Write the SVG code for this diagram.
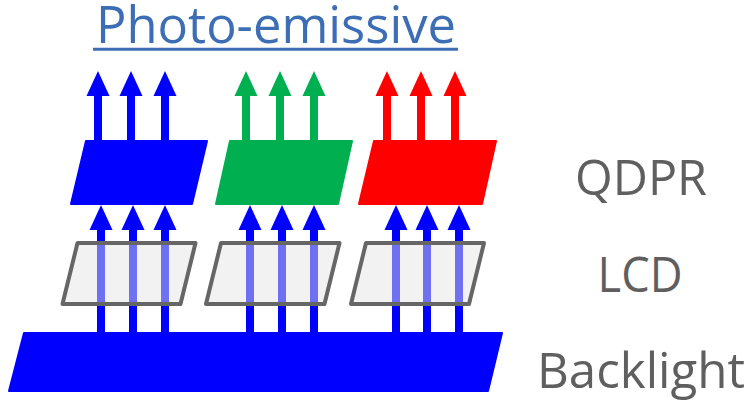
<svg xmlns="http://www.w3.org/2000/svg" width="752" height="408" viewBox="0 0 752 408">
  <style>
    .label { font-family: "Open Sans", "Noto Sans", sans-serif; font-size: 50px; fill: #5f5f5f; text-anchor: middle; }
    .title { font-family: "Open Sans", "Noto Sans", sans-serif; font-size: 52px; fill: #3d6eb5; text-anchor: middle; }
    .solid { stroke-width: 2; stroke-linejoin: round; }
    .blue { fill: #0000ff; stroke: #0000ff; }
    .green { fill: #00b050; stroke: #00b050; }
    .red { fill: #ff0000; stroke: #ff0000; }
    .lcd { fill: #e5e5e5; fill-opacity: 0.49; stroke: #666666; stroke-width: 4; stroke-linejoin: round; }
    .shaft { stroke-width: 8; fill: none; }
    .sb { stroke: #0000ff; marker-end: url(#headBlue); }
    .sg { stroke: #00b050; marker-end: url(#headGreen); }
    .sr { stroke: #ff0000; marker-end: url(#headRed); }
  </style>
  <defs>
    <marker id="headBlue" markerUnits="userSpaceOnUse" markerWidth="25" markerHeight="24" viewBox="0 -12 25 24" refX="1" refY="0" orient="auto">
      <path d="M0,-11.5 L25,0 L0,11.5 Z" fill="#0000ff"/>
    </marker>
    <marker id="headGreen" markerUnits="userSpaceOnUse" markerWidth="25" markerHeight="24" viewBox="0 -12 25 24" refX="1" refY="0" orient="auto">
      <path d="M0,-11.5 L25,0 L0,11.5 Z" fill="#00b050"/>
    </marker>
    <marker id="headRed" markerUnits="userSpaceOnUse" markerWidth="25" markerHeight="24" viewBox="0 -12 25 24" refX="1" refY="0" orient="auto">
      <path d="M0,-11.5 L25,0 L0,11.5 Z" fill="#ff0000"/>
    </marker>
  </defs>

  <g id="title">
    <text class="title" x="276" y="43" textLength="360" lengthAdjust="spacingAndGlyphs">Photo-emissive</text>
    <line x1="93" y1="49.2" x2="458" y2="49.2" stroke="#3d6eb5" stroke-width="3"/>
  </g>

  <g id="backlight">
    <polygon class="solid blue" points="24,333 502,333 488,391 9,391"/>
  </g>

  <g id="connectors">
    <!-- backlight to QDPR -->
    <line class="shaft sb" x1="101" y1="340" x2="101" y2="229"/>
    <line class="shaft sb" x1="133" y1="340" x2="133" y2="229"/>
    <line class="shaft sb" x1="165" y1="340" x2="165" y2="229"/>
    <line class="shaft sb" x1="250" y1="340" x2="250" y2="229"/>
    <line class="shaft sb" x1="282" y1="340" x2="282" y2="229"/>
    <line class="shaft sb" x1="314" y1="340" x2="314" y2="229"/>
    <line class="shaft sb" x1="396" y1="340" x2="396" y2="229"/>
    <line class="shaft sb" x1="427" y1="340" x2="427" y2="229"/>
    <line class="shaft sb" x1="459" y1="340" x2="459" y2="229"/>
    <!-- emission from QDPR -->
    <line class="shaft sb" x1="98" y1="150" x2="98" y2="95"/>
    <line class="shaft sb" x1="131" y1="150" x2="131" y2="95"/>
    <line class="shaft sb" x1="165" y1="150" x2="165" y2="95"/>
    <line class="shaft sg" x1="246" y1="150" x2="246" y2="95"/>
    <line class="shaft sg" x1="280" y1="150" x2="280" y2="95"/>
    <line class="shaft sg" x1="314" y1="150" x2="314" y2="95"/>
    <line class="shaft sr" x1="387" y1="150" x2="387" y2="95"/>
    <line class="shaft sr" x1="421" y1="150" x2="421" y2="95"/>
    <line class="shaft sr" x1="455" y1="150" x2="455" y2="95"/>
  </g>

  <g id="lcd-1"><polygon class="lcd" points="77.5,243 195.5,243 180.5,304 62.5,304"/></g>
  <g id="lcd-2"><polygon class="lcd" points="221,243 339.5,243 324.5,304 206,304"/></g>
  <g id="lcd-3"><polygon class="lcd" points="366,243 484,243 469,304 351,304"/></g>

  <g id="qdpr-blue"><polygon class="solid blue" points="86,141 207,141 192,204 71,204"/></g>
  <g id="qdpr-green"><polygon class="solid green" points="230,141 352,141 338,204 216,204"/></g>
  <g id="qdpr-red"><polygon class="solid red" points="374,141 496,141 482,204 359,204"/></g>

  <g id="label-qdpr"><text class="label" x="641" y="195" textLength="132" lengthAdjust="spacingAndGlyphs">QDPR</text></g>
  <g id="label-lcd"><text class="label" x="640" y="292" textLength="85" lengthAdjust="spacingAndGlyphs">LCD</text></g>
  <g id="label-backlight"><text class="label" x="641" y="388" textLength="208" lengthAdjust="spacingAndGlyphs">Backlight</text></g>
</svg>
